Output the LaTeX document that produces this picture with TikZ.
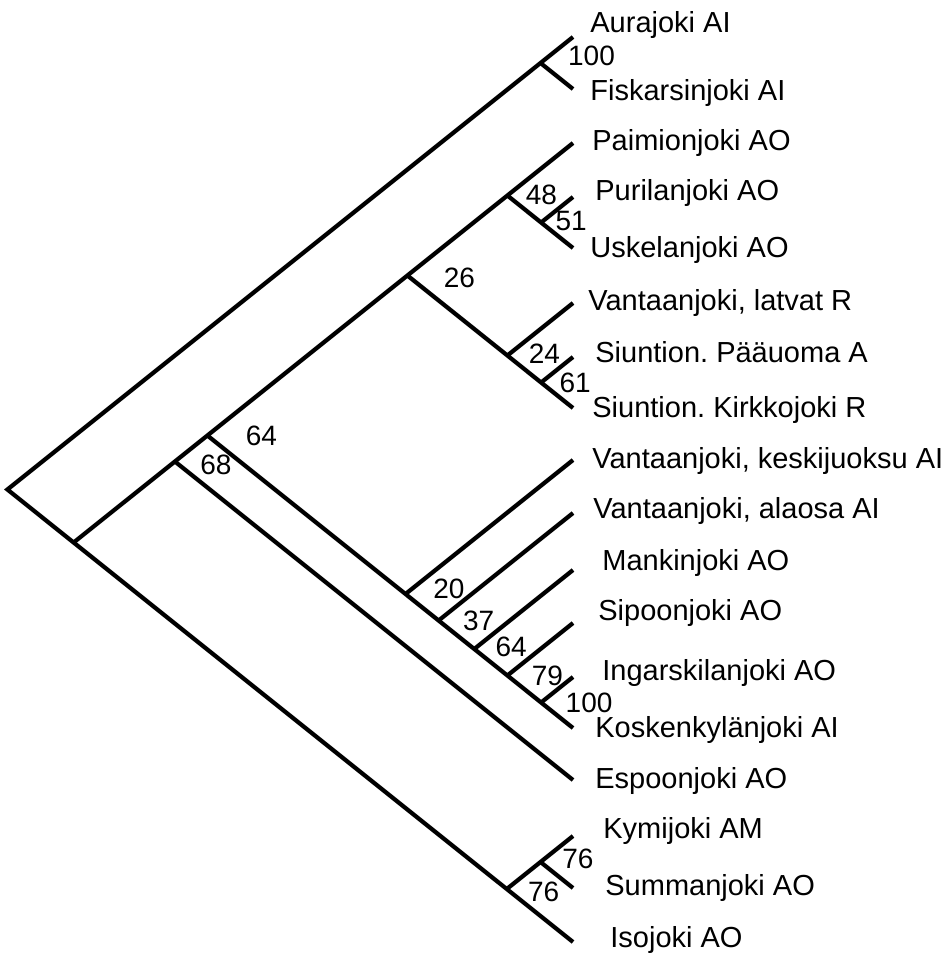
\documentclass[tikz,border=0pt]{standalone}
\usepackage{fontspec}
\setmainfont{Liberation Sans}
\usetikzlibrary{calc}
\frenchspacing

\begin{document}
\begin{tikzpicture}[
  x=0.5pt, y=-0.5pt,
  branch/.style={line width=2.1pt},
  taxon/.style={anchor=base west, inner sep=0pt, font=\fontsize{14.5}{16}\selectfont},
  support/.style={inner sep=0pt, font=\fontsize{14}{16}\selectfont}
]
\useasboundingbox (0,0) rectangle (952,955);

% tips
\coordinate (t1) at (573,37);
\coordinate (t2) at (573,89);
\coordinate (t3) at (573,143);
\coordinate (t4) at (573,197);
\coordinate (t5) at (573,248);
\coordinate (t6) at (573,303);
\coordinate (t7) at (573,357);
\coordinate (t8) at (573,408);
\coordinate (t9) at (573,460);
\coordinate (t10) at (573,513);
\coordinate (t11) at (573,570);
\coordinate (t12) at (573,623);
\coordinate (t13) at (573,677);
\coordinate (t14) at (573,728);
\coordinate (t15) at (573,780);
\coordinate (t16) at (573,836);
\coordinate (t17) at (573,888);
\coordinate (t18) at (573,942);

% inner nodes
\coordinate (root) at (7.4,489.5);
\coordinate (n100) at (540.5,63);
\coordinate (nA) at (73.6,542.5);
\coordinate (n68) at (174.9,461.5);
\coordinate (n64) at (207.4,435.5);
\coordinate (n26) at (407.4,275.5);
\coordinate (n48) at (507.4,195.5);
\coordinate (n51) at (541.1,222.5);
\coordinate (n24) at (507.4,355.5);
\coordinate (n61) at (541.1,382.5);
\coordinate (n20) at (405.5,594);
\coordinate (n37) at (438.6,620.5);
\coordinate (n64b) at (474.25,649);
\coordinate (n79) at (507.4,675.5);
\coordinate (n100b) at (541.1,702.5);
\coordinate (n76a) at (506.75,889);
\coordinate (n76b) at (540.5,862);

% branches
\draw[branch] (t1) -- (n100) -- (root) -- (nA) -- (n76a) -- (t18);
\draw[branch] (n100) -- (t2);
\draw[branch] (nA) -- (n68) -- (n64) -- (n26) -- (n48) -- (t3);
\draw[branch] (n48) -- (n51) -- (t5);
\draw[branch] (n51) -- (t4);
\draw[branch] (n26) -- (n24) -- (n61) -- (t8);
\draw[branch] (n24) -- (t6);
\draw[branch] (n61) -- (t7);
\draw[branch] (n68) -- (t15);
\draw[branch] (n64) -- (n20) -- (n37) -- (n64b) -- (n79) -- (n100b) -- (t14);
\draw[branch] (n20) -- (t9);
\draw[branch] (n37) -- (t10);
\draw[branch] (n64b) -- (t11);
\draw[branch] (n79) -- (t12);
\draw[branch] (n100b) -- (t13);
\draw[branch] (n76a) -- (n76b) -- (t16);
\draw[branch] (n76b) -- (t17);

% support values
\node[support] (s100) at ($(n100)+(51,-7)$) {100};
\node[support] (s48) at ($(n48)+(34,-1)$) {48};
\node[support] (s51) at ($(n51)+(30,-2)$) {51};
\node[support] (s26) at ($(n26)+(52,2.5)$) {26};
\node[support] (s24) at ($(n24)+(37,-1.5)$) {24};
\node[support] (s61) at ($(n61)+(34,0.5)$) {61};
\node[support] (s64) at ($(n64)+(54,0.5)$) {64};
\node[support] (s68) at ($(n68)+(41,3.5)$) {68};
\node[support] (s20) at ($(n20)+(43.5,-5)$) {20};
\node[support] (s37) at ($(n37)+(40,0)$) {37};
\node[support] (s64b) at ($(n64b)+(37,-2)$) {64};
\node[support] (s79) at ($(n79)+(40,0)$) {79};
\node[support] (s100b) at ($(n100b)+(48,0.5)$) {100};
\node[support] (s76b) at ($(n76b)+(37.5,-3)$) {76};
\node[support] (s76a) at ($(n76a)+(37,3)$) {76};

% taxa
\node[taxon] (l1) at (590,32) {Aurajoki AI};
\node[taxon] (l2) at (590,100) {Fiskarsinjoki AI};
\node[taxon] (l3) at (592,150) {Paimionjoki AO};
\node[taxon] (l4) at (595,200) {Purilanjoki AO};
\node[taxon] (l5) at (590,257) {Uskelanjoki AO};
\node[taxon] (l6) at (588,310) {Vantaanjoki, latvat R};
\node[taxon] (l7) at (595,362) {Siuntion. Pääuoma A};
\node[taxon] (l8) at (592,417) {Siuntion. Kirkkojoki R};
\node[taxon] (l9) at (592,468) {Vantaanjoki, keskijuoksu AI};
\node[taxon] (l10) at (593,518) {Vantaanjoki, alaosa AI};
\node[taxon] (l11) at (602,570) {Mankinjoki AO};
\node[taxon] (l12) at (598,620) {Sipoonjoki AO};
\node[taxon] (l13) at (602,680) {Ingarskilanjoki AO};
\node[taxon] (l14) at (595,737) {Koskenkylänjoki AI};
\node[taxon] (l15) at (595,788) {Espoonjoki AO};
\node[taxon] (l16) at (603,838) {Kymijoki AM};
\node[taxon] (l17) at (605,895) {Summanjoki AO};
\node[taxon] (l18) at (610,947) {Isojoki AO};
\end{tikzpicture}
\end{document}
